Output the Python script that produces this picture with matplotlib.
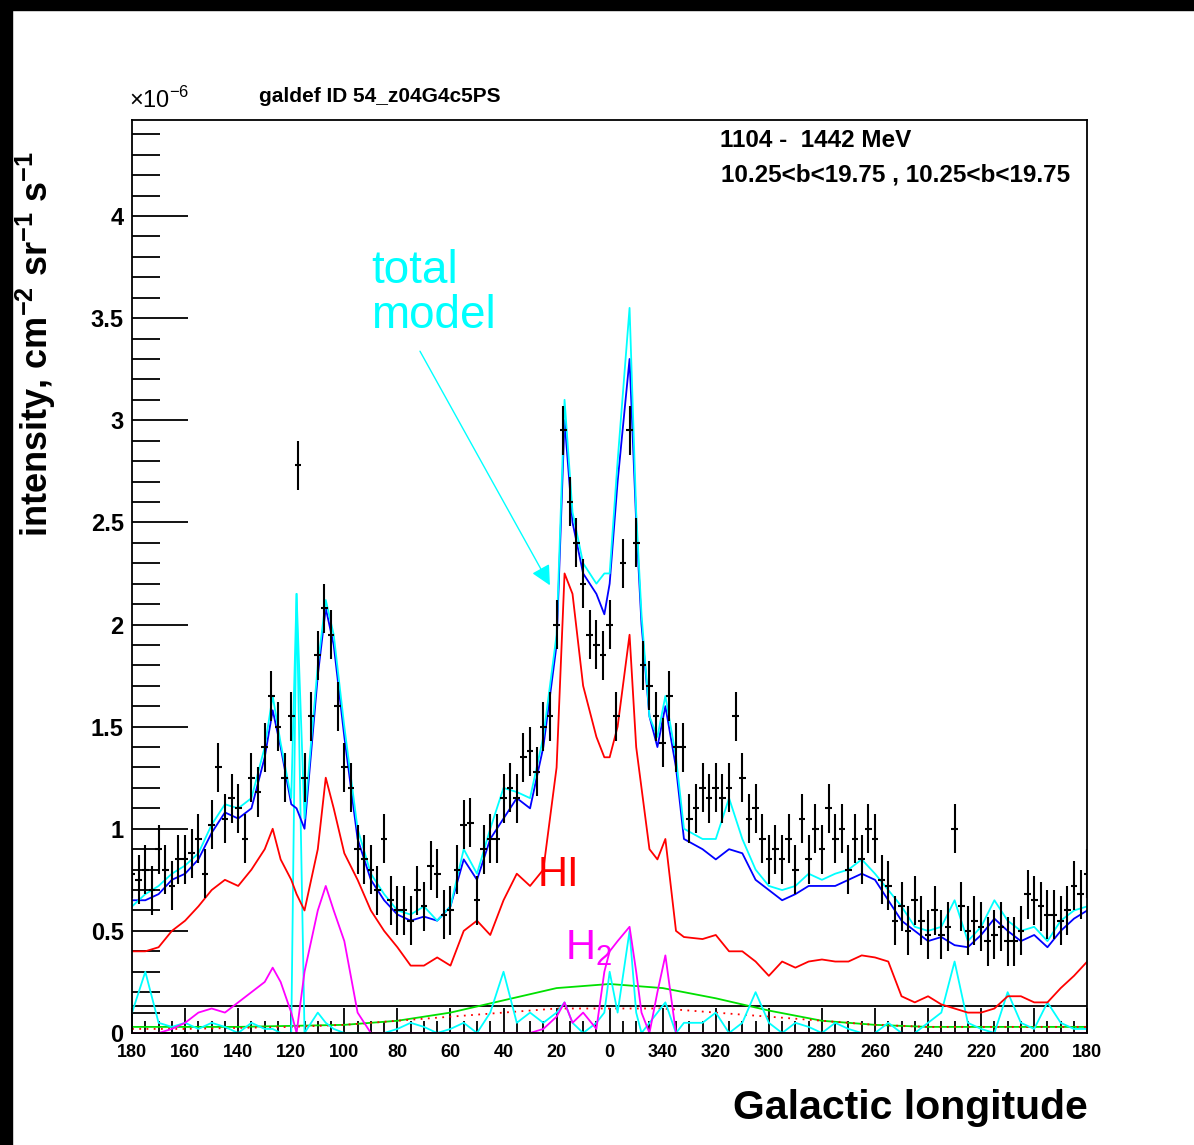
import numpy as np
import matplotlib
matplotlib.use("Agg")
import matplotlib.pyplot as plt
from matplotlib.patches import Rectangle

plt.rcParams["font.family"] = ["Liberation Sans", "DejaVu Sans"]
plt.rcParams["mathtext.fontset"] = "custom"
plt.rcParams["mathtext.rm"] = "Liberation Sans"
plt.rcParams["mathtext.bf"] = "Liberation Sans:bold"

# data points, longitude 180 -> -180 (shown as 180..0..360..180)
data_lon = np.arange(180, -180.1, -2.5)
data_val = [0.78, 0.75, 0.80, 0.70, 0.90, 0.80, 0.72, 0.85, 0.85, 0.88,
            0.95, 0.78, 1.02, 1.30, 1.05, 1.15, 1.10, 0.95, 1.25, 1.18,
            1.40, 1.65, 1.50, 1.25, 1.55, 2.78, 1.25, 1.55, 1.85, 2.08,
            1.95, 1.60, 1.30, 1.20, 0.90, 0.85, 0.80, 0.70, 0.95, 0.65,
            0.60, 0.60, 0.55, 0.70, 0.62, 0.82, 0.78, 0.58, 0.60, 0.80,
            1.02, 1.03, 0.65, 0.90, 0.95, 0.95, 1.15, 1.20, 1.15, 1.35,
            1.38, 1.28, 1.50, 1.55, 2.00, 2.95, 2.60, 2.40, 2.20, 1.95,
            1.90, 1.85, 2.00, 1.55, 2.30, 2.95, 2.40, 1.80, 1.70, 1.55,
            1.42, 1.65, 1.40, 1.40, 1.05, 1.10, 1.20, 1.15, 1.20, 1.15,
            1.20, 1.55, 1.25, 1.05, 1.10, 0.95, 0.85, 0.90, 0.85, 0.95,
            0.80, 1.05, 0.85, 1.00, 0.90, 1.10, 0.95, 1.00, 0.80, 0.95,
            0.85, 1.00, 0.95, 0.75, 0.72, 0.55, 0.62, 0.50, 0.65, 0.55,
            0.48, 0.60, 0.48, 0.52, 1.00, 0.62, 0.50, 0.55, 0.52, 0.45,
            0.48, 0.52, 0.45, 0.45, 0.50, 0.68, 0.65, 0.62, 0.58, 0.58,
            0.55, 0.60, 0.72, 0.68, 0.78]
data_err = 0.12

model_lon = [180, 175, 170, 165, 160, 155, 150, 145, 140, 135, 130,
             127, 124, 120, 118, 115, 110, 107, 104, 100,
             95, 90, 85, 80, 75, 70, 65, 60, 55, 50, 45, 40, 35, 30, 25, 20,
             17, 14, 10, 5, 2, 0, -3, -7.5, -10, -12, -15, -18, -21, -25, -28,
             -35, -40, -45, -50, -55, -60, -65, -70, -75, -80, -85, -90, -95, -100,
             -105, -110, -115, -120, -125, -130, -135, -140, -145, -150, -155,
             -160, -165, -170, -175, -180]
total_blue = [0.65, 0.65, 0.68, 0.75, 0.78, 0.85, 0.98, 1.08, 1.05, 1.10, 1.35,
              1.58, 1.40, 1.12, 1.10, 1.00, 1.75, 2.08, 1.90, 1.45,
              0.95, 0.75, 0.65, 0.58, 0.55, 0.57, 0.55, 0.62, 0.85, 0.75, 0.95, 1.05, 1.15, 1.10, 1.40, 1.90,
              3.00, 2.50, 2.25, 2.15, 2.05, 2.20, 2.70, 3.30, 2.50, 2.00, 1.55, 1.40, 1.60, 1.30, 0.95,
              0.90, 0.85, 0.90, 0.88, 0.75, 0.70, 0.65, 0.68, 0.72, 0.72, 0.72, 0.75, 0.78, 0.75,
              0.65, 0.55, 0.50, 0.45, 0.47, 0.43, 0.42, 0.48, 0.56, 0.50, 0.45,
              0.48, 0.42, 0.50, 0.56, 0.60]
total_cyan = [0.62, 0.68, 0.72, 0.78, 0.82, 0.88, 1.02, 1.12, 1.10, 1.15, 1.40,
              1.65, 1.42, 1.15, 2.15, 1.05, 1.80, 2.12, 1.95, 1.50,
              1.00, 0.78, 0.68, 0.60, 0.58, 0.62, 0.55, 0.62, 0.90, 0.78, 1.00, 1.20, 1.18, 1.15, 1.45, 1.95,
              3.10, 2.55, 2.30, 2.20, 2.25, 2.25, 2.80, 3.55, 2.55, 2.05, 1.55, 1.45, 1.65, 1.35, 1.00,
              0.95, 0.95, 1.15, 0.95, 0.80, 0.72, 0.70, 0.72, 0.78, 0.75, 0.78, 0.80, 0.85, 0.78,
              0.70, 0.62, 0.52, 0.50, 0.52, 0.65, 0.45, 0.52, 0.65, 0.55, 0.50,
              0.52, 0.45, 0.55, 0.60, 0.62]
hi_red = [0.40, 0.40, 0.42, 0.50, 0.55, 0.62, 0.70, 0.75, 0.72, 0.80, 0.90,
          1.00, 0.85, 0.75, 0.68, 0.60, 0.90, 1.25, 1.10, 0.88,
          0.75, 0.60, 0.50, 0.42, 0.33, 0.33, 0.37, 0.33, 0.50, 0.55, 0.48, 0.65, 0.78, 0.72, 0.80, 1.30,
          2.25, 2.15, 1.70, 1.45, 1.35, 1.35, 1.50, 1.95, 1.40, 1.20, 0.90, 0.85, 0.95, 0.50, 0.47,
          0.46, 0.48, 0.40, 0.40, 0.35, 0.28, 0.35, 0.32, 0.35, 0.36, 0.35, 0.35, 0.38, 0.37,
          0.35, 0.18, 0.15, 0.18, 0.14, 0.12, 0.10, 0.10, 0.12, 0.18, 0.18,
          0.15, 0.15, 0.22, 0.28, 0.35]
h2_mag = [0, 0, 0, 0.02, 0.05, 0.10, 0.12, 0.10, 0.15, 0.20, 0.25,
          0.32, 0.25, 0.10, 0.0, 0.30, 0.60, 0.72, 0.60, 0.45,
          0.10, 0, 0, 0, 0, 0, 0, 0, 0, 0, 0, 0, 0, 0, 0.02, 0.08,
          0.15, 0.05, 0.10, 0.02, 0.30, 0.40, 0.45, 0.52, 0.30, 0.10, 0.0, 0.20, 0.38, 0.0, 0.0] + [0] * 30
resid_cyan = [0.10, 0.30, 0.05, 0.03, 0.05, 0.02, 0.05, 0.03, 0.0, 0.05, 0.02,
              0.02, 0.0, 0.0, 2.15, 0.0, 0.10, 0.05, 0.02, 0.0,
              0, 0, 0, 0.02, 0.05, 0.03, 0.0, 0.02, 0.05, 0.0, 0.10, 0.30, 0.05, 0.10, 0.05, 0.10,
              0.15, 0.05, 0.0, 0.05, 0.10, 0.30, 0.10, 0.50, 0.10, 0.0, 0.05, 0.10, 0.15, 0.0, 0.05,
              0.05, 0.10, 0.0, 0.05, 0.20, 0.05, 0.0, 0.05, 0.03, 0.0, 0.05, 0.02, 0.0, 0.0,
              0.05, 0.0, 0.0, 0.05, 0.10, 0.35, 0.05, 0.02, 0.0, 0.20, 0.05,
              0.02, 0.15, 0.05, 0.02, 0.02]

smooth_lon = [180, 160, 140, 120, 100, 80, 60, 40, 20, 0, -20, -40, -60, -80, -100, -120, -140, -160, -180]
ic_green = [0.03, 0.03, 0.03, 0.035, 0.04, 0.06, 0.10, 0.16, 0.22, 0.24, 0.22, 0.17, 0.11, 0.06, 0.04, 0.03, 0.03, 0.03, 0.03]
dot_red = [0.02, 0.02, 0.025, 0.03, 0.04, 0.06, 0.08, 0.10, 0.12, 0.12, 0.12, 0.10, 0.08, 0.06, 0.04, 0.03, 0.03, 0.03, 0.03]
iso_level = 0.13

x_ticks = list(range(180, -181, -20))
x_labels = [str(t % 360) if t != -180 else "180" for t in x_ticks]

fig = plt.figure(figsize=(11.94, 11.45), dpi=100)
fig.patches.append(Rectangle((0, 0.991), 1, 0.009, transform=fig.transFigure, color="black"))
fig.patches.append(Rectangle((0, 0), 0.010, 1, transform=fig.transFigure, color="black"))

ax = fig.add_axes([0.1106, 0.0978, 0.80, 0.7974])
ax.set_xlim(180, -180)
ax.set_ylim(0, 4.47)

ax.axhline(iso_level, color="black", lw=1.3)
ax.plot(smooth_lon, ic_green, color="#00e000", lw=1.3)
ax.plot(smooth_lon, dot_red, color="red", lw=1.3, ls=(0, (1, 3)))
ax.plot(model_lon, resid_cyan, color="cyan", lw=1.3)
ax.plot(model_lon, h2_mag, color="magenta", lw=1.3)
ax.plot(model_lon, hi_red, color="red", lw=1.3)
ax.plot(model_lon, total_blue, color="blue", lw=1.3)
ax.plot(model_lon, total_cyan, color="cyan", lw=1.3)
ax.errorbar(data_lon, data_val, yerr=data_err, xerr=1.25, fmt="none", ecolor="black", elinewidth=1.5)

ax.set_xticks(x_ticks)
ax.set_xticklabels(x_labels, fontweight="bold", fontsize=13)
ax.set_xticks(np.arange(180, -181, -5), minor=True)
ax.set_yticks([0, 0.5, 1, 1.5, 2, 2.5, 3, 3.5, 4])
ax.set_yticklabels(["0", "0.5", "1", "1.5", "2", "2.5", "3", "3.5", "4"], fontweight="bold", fontsize=17)
ax.set_yticks(np.arange(0, 4.45, 0.1), minor=True)
ax.tick_params(axis="y", which="major", direction="in", length=40, width=1.3, pad=6)
ax.tick_params(axis="y", which="minor", direction="in", length=20, width=1.3)
ax.tick_params(axis="x", which="major", direction="in", length=18, width=1.3, pad=8)
ax.tick_params(axis="x", which="minor", direction="in", length=9, width=1.3)
for s in ax.spines.values():
    s.set_linewidth(1.3)

ax.set_ylabel(r"intensity, cm$^{\mathbf{-2}}$ sr$^{\mathbf{-1}}$ s$^{\mathbf{-1}}$",
              fontweight="bold", fontsize=26)
ax.yaxis.set_label_coords(-0.078, 0.755)
ax.set_xlabel("Galactic longitude", fontweight="bold", fontsize=29.5, loc="right", labelpad=20)

fig.text(0.108, 0.906, r"$\times$10$^{-6}$", fontsize=17)
fig.text(0.217, 0.911, "galdef ID 54_z04G4c5PS", fontweight="bold", fontsize=15)
ax.text(0.615, 0.99, "1104 -  1442 MeV", transform=ax.transAxes, fontweight="bold", fontsize=17.5, va="top")
ax.text(0.982, 0.952, "10.25<b<19.75 , 10.25<b<19.75", transform=ax.transAxes, fontweight="bold",
        fontsize=17.5, va="top", ha="right")

ax.text(90, 3.45, "total\nmodel", color="cyan", fontsize=33, linespacing=1.05)
ax.annotate("", xy=(22, 2.18), xytext=(72, 3.35),
            arrowprops=dict(arrowstyle="-|>", color="cyan", lw=1, mutation_scale=30))
ax.text(27, 0.72, "HI", color="red", fontsize=30)
ax.text(17, 0.36, "H$_2$", color="magenta", fontsize=30)

fig.savefig("out.png", dpi=100, facecolor="white")
